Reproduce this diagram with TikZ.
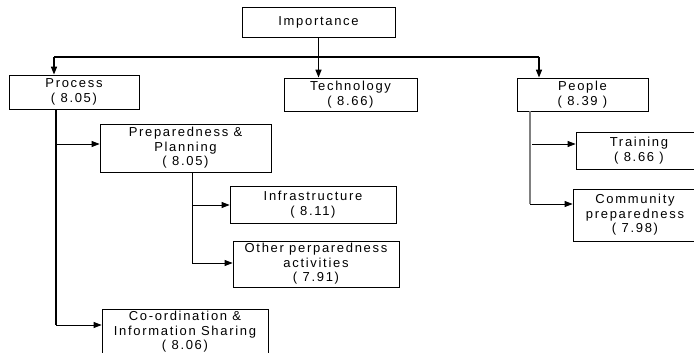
\documentclass[tikz,border=0pt]{standalone}
\usepackage{fontspec}
\setmainfont{Liberation Sans}[LetterSpace=13]
\usetikzlibrary{arrows.meta}
\newcommand{\lab}{\fontsize{13}{14.5}\selectfont}
\tikzset{
  box/.style={draw, line width=0.8pt, inner sep=0pt, align=center, font=\lab},
  arr/.style={-{Triangle[length=8pt,width=6pt]}, line width=0.8pt},
}
\begin{document}
\begin{tikzpicture}[x=1pt,y=-1pt]
\useasboundingbox (0,0) rectangle (694,353);
\clip (0,0) rectangle (694,353);
\fill[white] (0,0) rectangle (694,353);
% nodes
\node[box, minimum width=153pt, minimum height=30pt] (imp) at (318.5,22) {Importance};
\node[box, minimum width=130pt, minimum height=34pt] (proc) at (74,92) {Process\\( 8.05)};
\node[box, minimum width=133pt, minimum height=33pt] (tech) at (350.5,94.5) {Technology\\( 8.66)};
\node[box, minimum width=131pt, minimum height=33pt] (peop) at (582.5,94.5) {People\\( 8.39 )};
\node[box, minimum width=171pt, minimum height=48pt] (prep) at (185.5,148) {Preparedness \&\\Planning\\( 8.05)};
\node[box, minimum width=166pt, minimum height=37pt] (infra) at (313,204.5) {Infrastructure\\( 8.11)};
\node[box, minimum width=166pt, minimum height=46pt] (other) at (316,264) {Other perparedness\\activities\\( 7.91)};
\node[box, minimum width=166pt, minimum height=46pt] (coord) at (185,332) {Co-ordination \&\\Information Sharing\\( 8.06)};
\node[box, minimum width=126pt, minimum height=37pt] (train) at (639,150.5) {Training\\( 8.66 )};
\node[box, minimum width=124pt, minimum height=52pt] (comm) at (635,215) {Community\\preparedness\\( 7.98)};
% top level connectors
\coordinate (hl) at (54,57);
\coordinate (hr) at (539,57);
\draw[line width=2pt] (hl) -- (hr);
\draw[arr, line width=1.5pt] (imp.south) -- (imp.south |- tech.north);
\draw[arr, line width=1.5pt] (hl) -- (hl |- proc.north);
\draw[arr, line width=1.5pt] (hr) -- (hr |- peop.north);
% process branch
\coordinate (pb) at (56,325);
\coordinate (pa) at (56,144);
\draw[line width=2.6pt] (pb |- proc.south) -- (pb);
\draw[arr] (pa) -- (pa -| prep.west);
\draw[arr] (pb) -- (pb -| coord.west);
% preparedness branch
\coordinate (qa) at (192,205);
\coordinate (qb) at (192,263);
\draw[line width=0.8pt] (qb |- prep.south) -- (qb);
\draw[arr] (qa) -- (qa -| infra.west);
\draw[arr] (qb) -- (qb -| other.west);
% people branch
\coordinate (ra) at (532,144);
\coordinate (rb) at (530,204);
\draw[gray, line width=1.6pt] (rb |- peop.south) -- (rb);
\draw[arr] (ra) -- (ra -| train.west);
\draw[arr] (rb) -- (rb -| comm.west);
\end{tikzpicture}
\end{document}
